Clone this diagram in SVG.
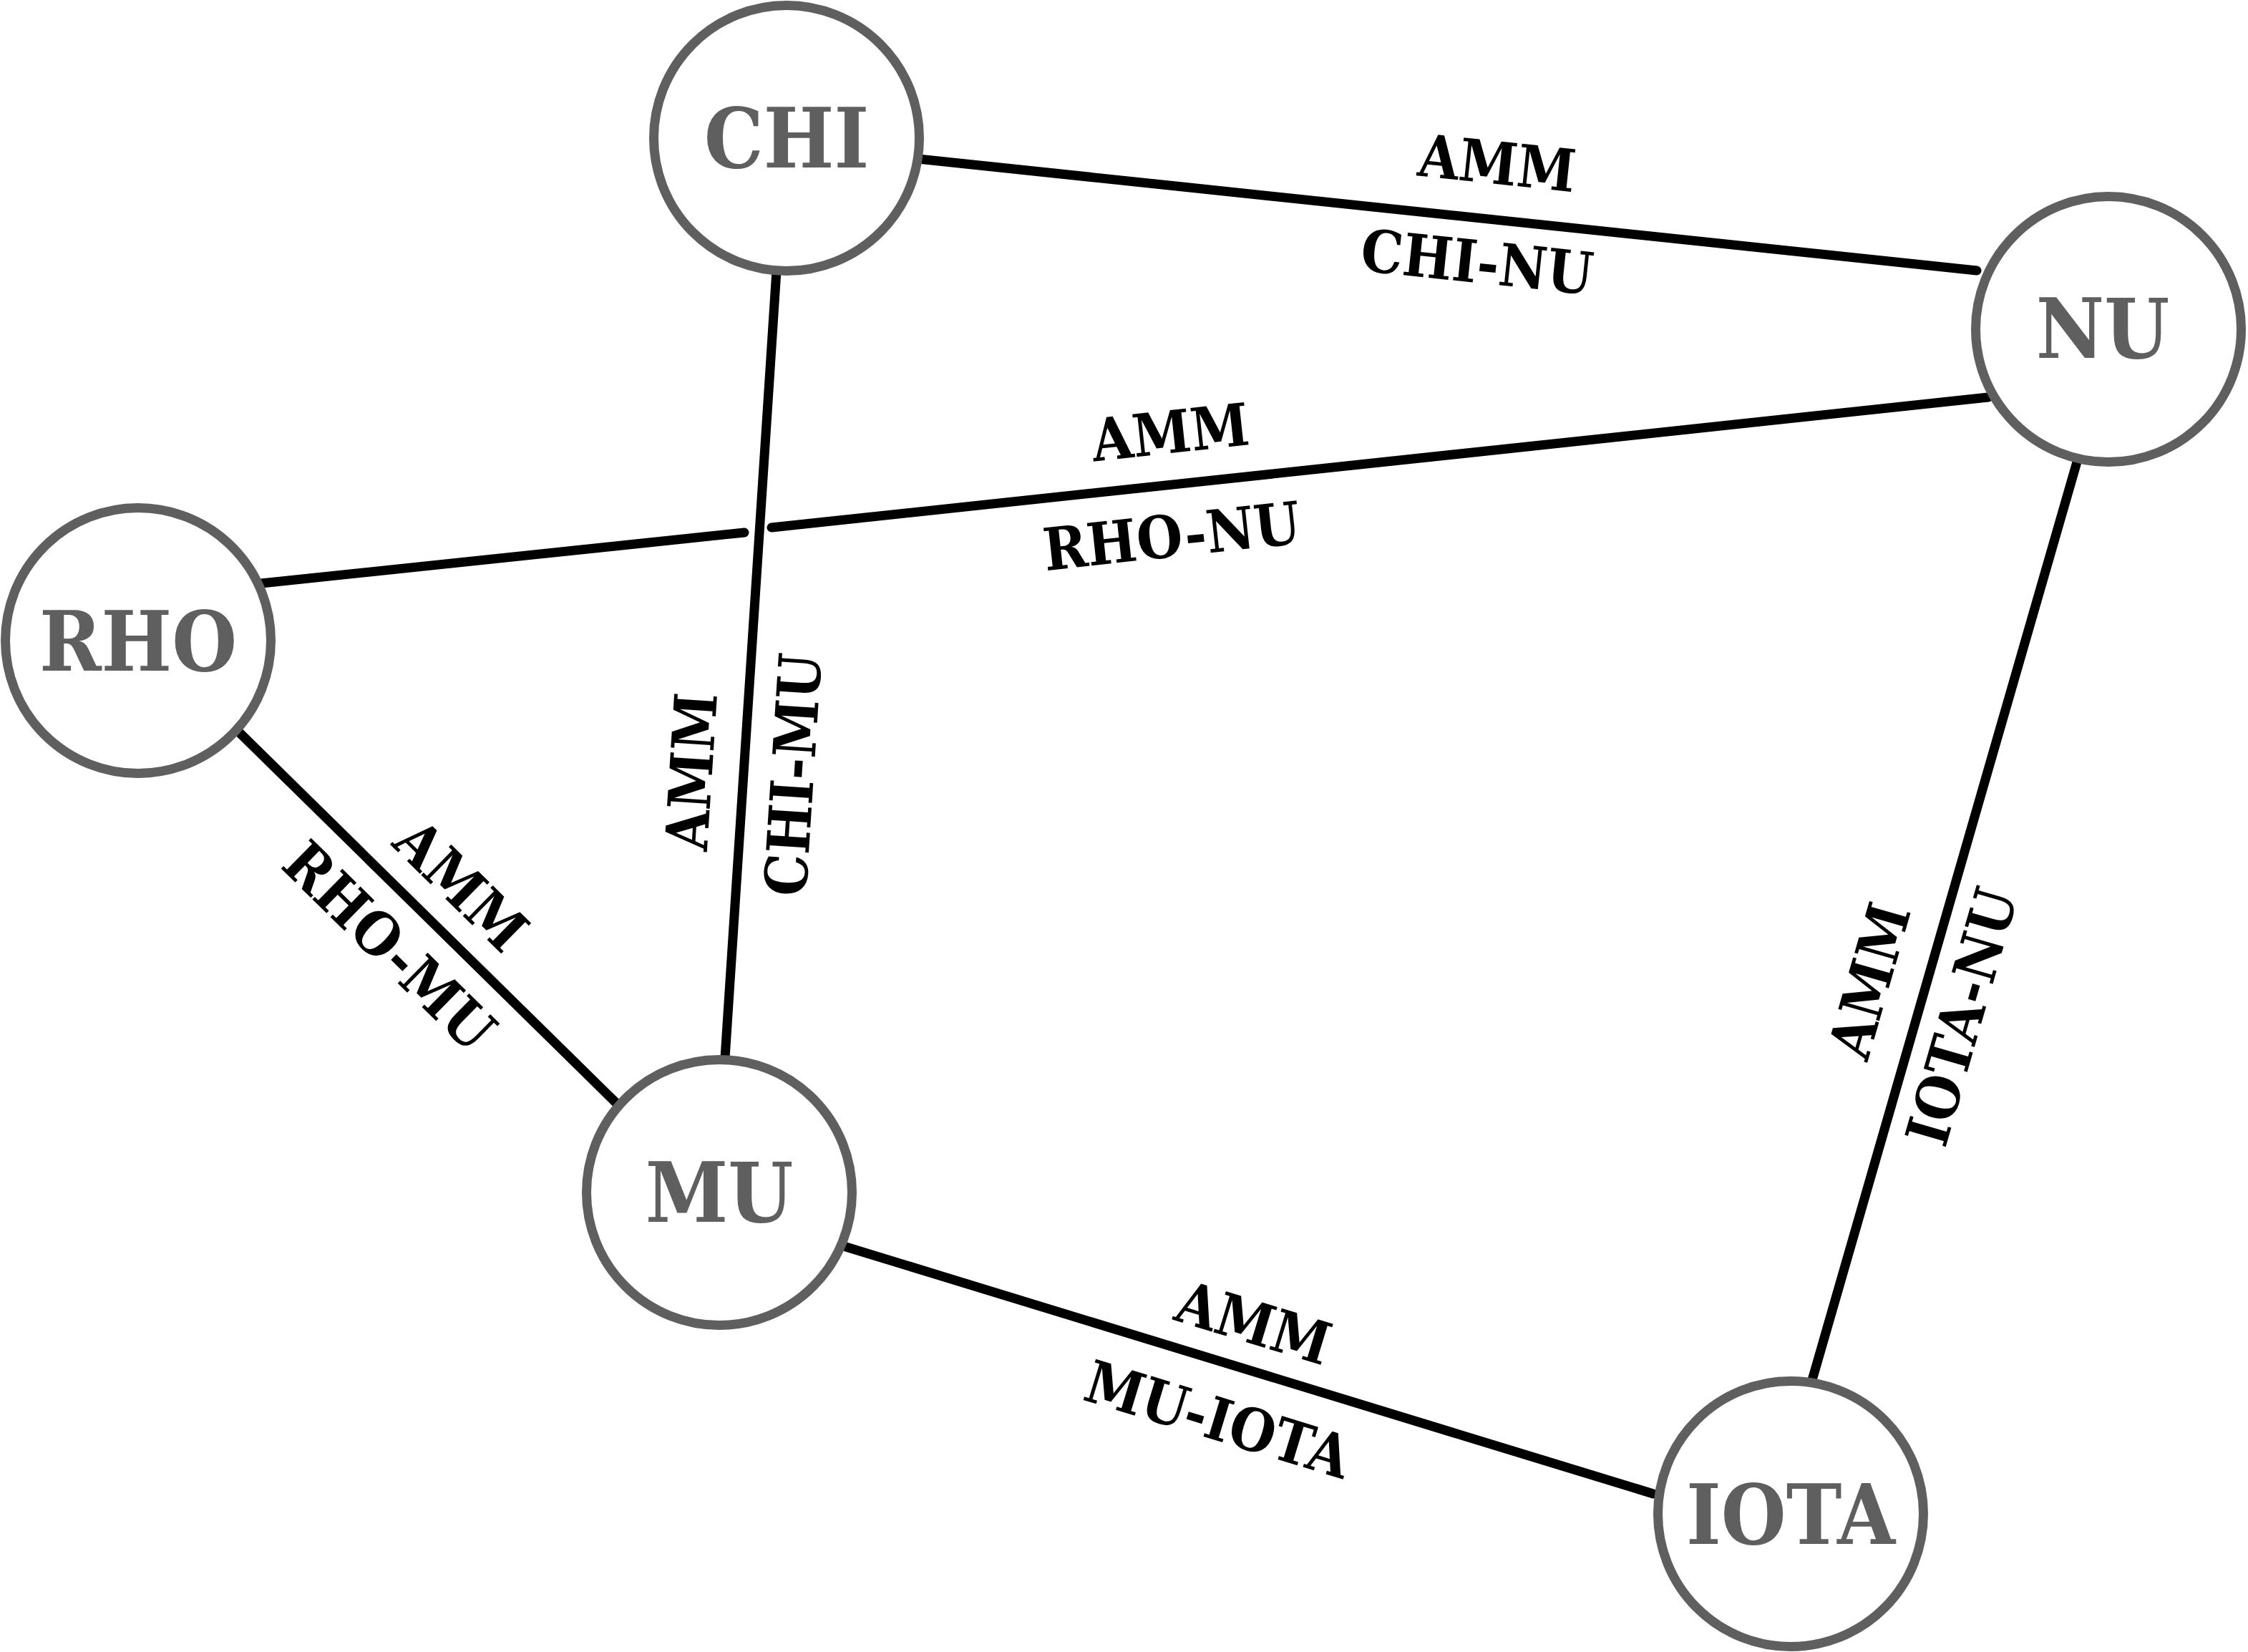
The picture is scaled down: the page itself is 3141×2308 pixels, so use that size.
<svg xmlns="http://www.w3.org/2000/svg" width="3141" height="2308" viewBox="0 0 3141 2308">
<style>
.node circle{fill:#ffffff;stroke:#5f5f5f;stroke-width:13}
.node text{font-family:"DejaVu Serif Condensed","DejaVu Serif",serif;font-stretch:condensed;font-weight:bold;font-size:116px;fill:#5f5f5f;text-anchor:middle}
.edge{stroke:#000000;stroke-width:13;stroke-linecap:round;fill:none}
.lbl{font-family:"DejaVu Serif Condensed","DejaVu Serif",serif;font-stretch:condensed;font-weight:bold;font-size:82px;fill:#000000;text-anchor:middle}
</style>
<rect width="3141" height="2308" fill="#ffffff"/>
<g id="connectors">
<line class="edge" x1="1283" y1="222" x2="2762" y2="378"/>
<line class="edge" x1="365" y1="815" x2="1040" y2="744"/>
<line class="edge" x1="1078" y1="737" x2="2778" y2="555"/>
<line class="edge" x1="1085" y1="378" x2="1013" y2="1478"/>
<line class="edge" x1="333" y1="1022" x2="860" y2="1540"/>
<line class="edge" x1="1182" y1="1742" x2="2310" y2="2087"/>
<line class="edge" x1="2532" y1="1928" x2="2903" y2="642"/>
<g transform="translate(2092,227) rotate(6.02)"><text class="lbl" x="0" y="30">AMM</text></g>
<g transform="translate(2064,365) rotate(6.02)"><text class="lbl" x="0" y="30">CHI-NU</text></g>
<g transform="translate(1635,603) rotate(-6.15)"><text class="lbl" x="0" y="30">AMM</text></g>
<g transform="translate(1637,748) rotate(-6.15)"><text class="lbl" x="0" y="30">RHO-NU</text></g>
<g transform="translate(965,1078) rotate(-86.3)"><text class="lbl" x="0" y="30">AMM</text></g>
<g transform="translate(1107,1082) rotate(-86.3)"><text class="lbl" x="0" y="30">CHI-MU</text></g>
<g transform="translate(645,1236) rotate(44.5)"><text class="lbl" x="0" y="30">AMM</text></g>
<g transform="translate(545,1321) rotate(44.5)"><text class="lbl" x="0" y="30">RHO-MU</text></g>
<g transform="translate(1752,1847) rotate(17.0)"><text class="lbl" x="0" y="30">AMM</text></g>
<g transform="translate(1702,1982) rotate(17.0)"><text class="lbl" x="0" y="30">MU-IOTA</text></g>
<g transform="translate(2611,1370) rotate(-73.9)"><text class="lbl" x="0" y="30">AMM</text></g>
<g transform="translate(2740,1420) rotate(-73.9)"><text class="lbl" x="0" y="30">IOTA-NU</text></g>
</g>
<g id="node-chi" class="node"><circle cx="1099" cy="193" r="185.5"/><text x="1099" y="234">CHI</text></g>
<g id="node-nu" class="node"><circle cx="2946" cy="460" r="185.5"/><text x="2938" y="500">NU</text></g>
<g id="node-rho" class="node"><circle cx="193" cy="895" r="185.5"/><text x="193" y="937">RHO</text></g>
<g id="node-mu" class="node"><circle cx="1005" cy="1666" r="185.5"/><text x="1005" y="1707">MU</text></g>
<g id="node-iota" class="node"><circle cx="2502" cy="2115" r="185.5"/><text x="2502" y="2157">IOTA</text></g>
</svg>
